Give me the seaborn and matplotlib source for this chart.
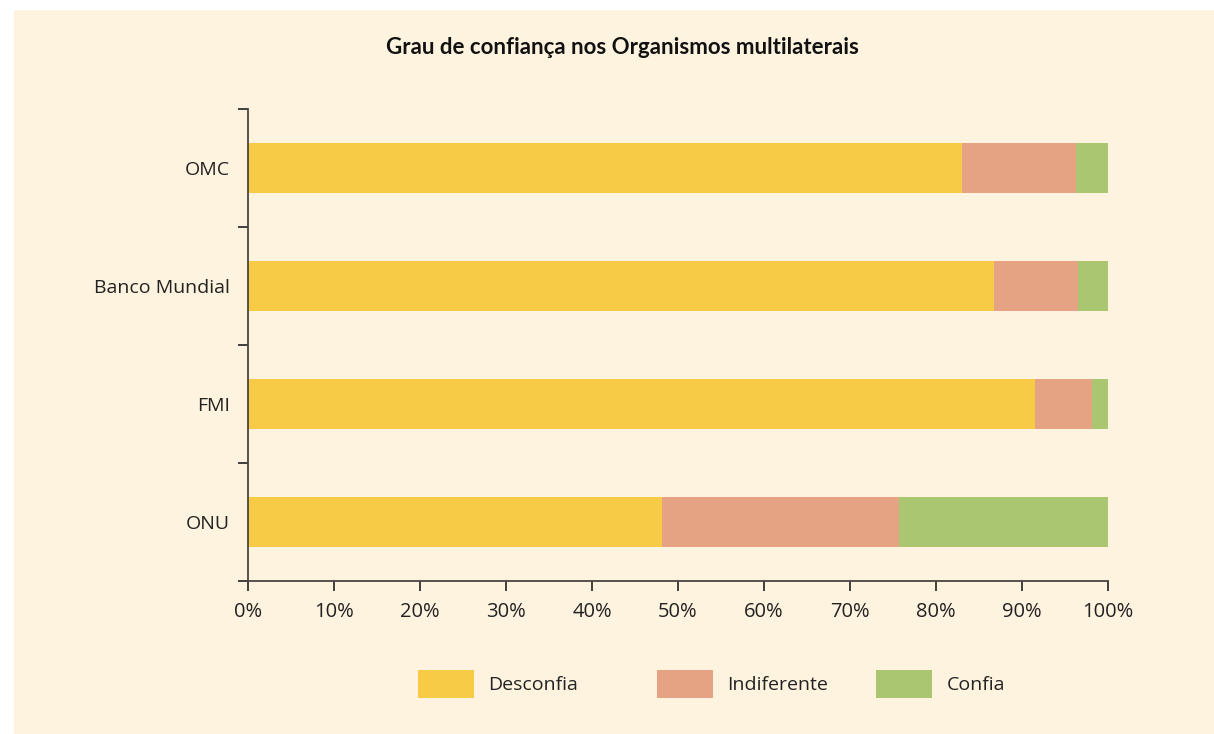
import matplotlib
matplotlib.use("Agg")
import matplotlib.pyplot as plt
import matplotlib.patches as mpatches
from matplotlib.ticker import FixedLocator, PercentFormatter
import pandas as pd
import seaborn as sns

organismos = ["OMC", "Banco Mundial", "FMI", "ONU"]
desconfia = [83.0, 86.7, 91.5, 48.1]
indiferente = [13.3, 9.8, 6.6, 27.6]
confia = [3.7, 3.5, 1.9, 24.3]

series = ["Desconfia", "Indiferente", "Confia"]
cores = ["#F7CB45", "#E5A384", "#AAC670"]
fundo = "#FEF3DF"

df = pd.DataFrame({"org": organismos, "Desconfia": desconfia,
                   "Indiferente": indiferente, "Confia": confia})
df["c1"] = df["Desconfia"]
df["c2"] = df["c1"] + df["Indiferente"]
df["c3"] = df["c2"] + df["Confia"]

sns.set_theme(style="white")
plt.rcParams["font.family"] = ["Open Sans", "DejaVu Sans"]

fig = plt.figure(figsize=(12.14, 7.34), dpi=100, facecolor="white")
fig.patches.append(mpatches.Rectangle((14 / 1214, 0.0), 1 - 14 / 1214, 1 - 10 / 734,
                                      transform=fig.transFigure, facecolor=fundo,
                                      edgecolor="none", zorder=-10))
ax = fig.add_axes([248 / 1214, 1 - 581 / 734, 860 / 1214, 472 / 734])
ax.set_facecolor(fundo)

# stacked: draw cumulative totals from the largest down
for col, cor in zip(["c3", "c2", "c1"], cores[::-1]):
    sns.barplot(data=df, y="org", x=col, orient="h", color=cor, linewidth=0,
                saturation=1, width=0.42, ax=ax, order=organismos)

ax.set_xlim(0, 100)
ax.set_ylim(3.5, -0.5)
ax.set_xlabel("")
ax.set_ylabel("")
ax.xaxis.set_major_locator(FixedLocator(range(0, 101, 10)))
ax.xaxis.set_major_formatter(PercentFormatter(decimals=0))

ax.yaxis.set_major_locator(FixedLocator([-0.5, 0.5, 1.5, 2.5, 3.5]))
ax.set_yticklabels([])
ax.yaxis.set_minor_locator(FixedLocator([0, 1, 2, 3]))
ax.set_yticklabels(organismos, minor=True)

for s in ["top", "right"]:
    ax.spines[s].set_visible(False)
for s in ["left", "bottom"]:
    ax.spines[s].set_color("#4a4540")
    ax.spines[s].set_linewidth(1.3)

ax.tick_params(axis="both", which="major", direction="out", length=7, width=1.2,
               color="#222222", labelsize=14.5, labelcolor="#222222",
               bottom=True, left=True)
ax.tick_params(axis="y", which="minor", length=0, pad=13, labelsize=14,
               labelcolor="#222222", left=True)
ax.tick_params(axis="x", pad=8)

fig.text(622 / 1214, 1 - 47 / 734, "Grau de confiança nos Organismos multilaterais",
         ha="center", va="center", fontsize=16, fontweight="bold", color="#111111",
         family=["Lato", "DejaVu Sans"])

# legend entries placed one by one (uneven spacing in the original)
leg_x = [418, 657, 876]
for c, l, x in zip(cores, series, leg_x):
    h = mpatches.Patch(facecolor=c, edgecolor="none", label=l)
    fig.legend(handles=[h], loc="center left",
               bbox_to_anchor=(x / 1214, 1 - 684 / 734), frameon=False,
               borderpad=0, borderaxespad=0,
               fontsize=14, handlelength=2.9, handleheight=1.85, handletextpad=0.72,
               labelcolor="#222222")

fig.savefig("out.png", dpi=100, facecolor="white")
